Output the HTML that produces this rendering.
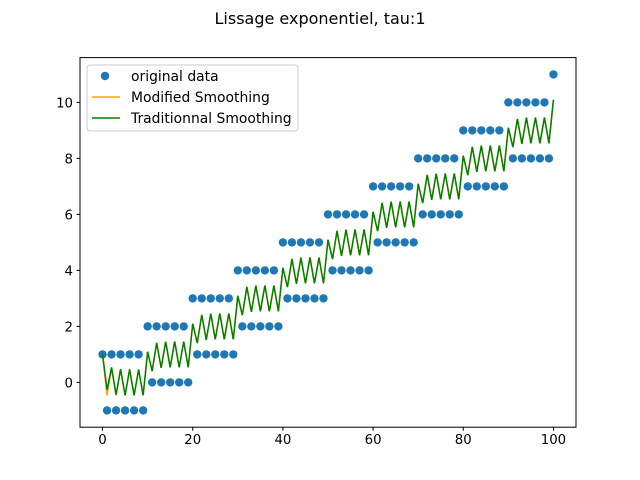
<!DOCTYPE html>
<html><head><meta charset="utf-8"><style>
body{margin:0;background:#fff}
svg{display:block;font-family:"DejaVu Sans","Liberation Sans",sans-serif}
</style></head><body>
<svg id="chart" width="640" height="480" viewBox="0 0 640 480">
<text x="320" y="24" text-anchor="middle" font-size="16">Lissage exponentiel, tau:1</text>
<g id="plot"></g>
<rect x="80" y="57.6" width="496" height="369.6" fill="none" stroke="#000" stroke-width="1"/>
<g>
<rect x="87" y="65" width="211" height="66" rx="3" fill="#fff" fill-opacity="0.8" stroke="#ccc"/>
<circle cx="105" cy="76" r="4.2" fill="#1f77b4"/>
<text x="131" y="81" font-size="13.9">original data</text>
<line x1="92" y1="97" x2="120" y2="97" stroke="#ffa500" stroke-width="1.5"/>
<text x="131" y="102" font-size="13.9">Modified Smoothing</text>
<line x1="92" y1="118" x2="120" y2="118" stroke="#008000" stroke-width="1.5"/>
<text x="131" y="123" font-size="13.9">Traditionnal Smoothing</text>
</g>
</svg>
<script>
const xValues = [];
for (let i = 0; i <= 100; i++) xValues.push(i);
const yValues = [1,-1,1,-1,1,-1,1,-1,1,-1, 2,0,2,0,2,0,2,0,2,0, 3,1,3,1,3,1,3,1,3,1, 4,2,4,2,4,2,4,2,4,2, 5,3,5,3,5,3,5,3,5,3, 6,4,6,4,6,4,6,4,6,4, 7,5,7,5,7,5,7,5,7,5, 8,6,8,6,8,6,8,6,8,6, 9,7,9,7,9,7,9,7,9,7, 10,8,10,8,10,8,10,8,10,8, 11];
const xTicks = [0,20,40,60,80,100];
const yTicks = [0,2,4,6,8,10];
const tau = 1;

const NS = "http://www.w3.org/2000/svg";
const X0 = 80, X1 = 576, Y0 = 427.2, Y1 = 57.6;
const xmin = -5, xmax = 105, ymin = -1.6, ymax = 11.6;
const sx = v => X0 + (v - xmin) / (xmax - xmin) * (X1 - X0);
const sy = v => Y0 - (v - ymin) / (ymax - ymin) * (Y0 - Y1);
const plot = document.getElementById('plot');
function mk(tag, attrs) { const e = document.createElementNS(NS, tag); for (const k in attrs) e.setAttribute(k, attrs[k]); return e; }

xTicks.forEach(t => {
  const l = mk('line', {x1: sx(t), x2: sx(t), y1: Y0, y2: Y0 + 3.5, stroke: '#000'});
  
  
  plot.appendChild(l);
  const tx = mk('text', {x: sx(t), y: Y0 + 17, 'text-anchor': 'middle', 'font-size': 13.3});
  tx.textContent = t;
  
  
  plot.appendChild(tx);
});
yTicks.forEach(t => {
  const l = mk('line', {x1: X0 - 3.5, x2: X0, y1: sy(t), y2: sy(t), stroke: '#000'});
  
  
  plot.appendChild(l);
  const tx = mk('text', {x: X0 - 7, y: sy(t) + 5, 'text-anchor': 'end', 'font-size': 13.3});
  tx.textContent = t;
  
  
  plot.appendChild(tx);
});

xValues.forEach((x, i) => {
  const c = mk('circle', {cx: sx(x), cy: sy(yValues[i]), r: 4.2, fill: '#1f77b4'});
  
  
  plot.appendChild(c);
});

const a = 1 - Math.exp(-1 / tau);
const trad = [], mod = [];
let s = yValues[0], m = 0;
yValues.forEach((y, i) => {
  if (i > 0) s = a * y + (1 - a) * s;
  trad.push(s);
  m = a * y + (1 - a) * m;
  mod.push(m / (1 - Math.pow(1 - a, i + 1)));
});
function pathOf(arr) { return arr.map((v, i) => (i ? 'L' : 'M') + sx(xValues[i]).toFixed(2) + ',' + sy(v).toFixed(2)).join(''); }
const pm = mk('path', {d: pathOf(mod), fill: 'none', stroke: '#ffa500', 'stroke-width': 1.5});


plot.appendChild(pm);
const pt = mk('path', {d: pathOf(trad), fill: 'none', stroke: '#008000', 'stroke-width': 1.5});


plot.appendChild(pt);
</script>
</body></html>
